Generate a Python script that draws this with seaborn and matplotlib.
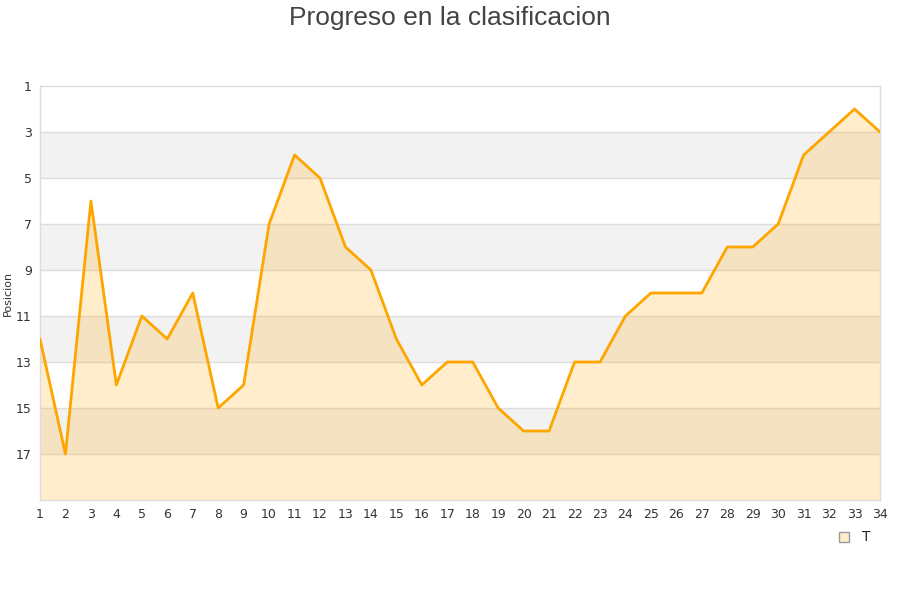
import matplotlib
matplotlib.use("Agg")
import matplotlib.pyplot as plt
import seaborn as sns
import pandas as pd
from matplotlib.lines import Line2D

# jornadas y posiciones
jornadas = list(range(1, 35))
posiciones = [12, 17, 6, 14, 11, 12, 10, 15, 14, 7, 4, 5, 8, 9, 12, 14, 13, 13,
              15, 16, 16, 13, 13, 11, 10, 10, 10, 8, 8, 7, 4, 3, 2, 3]
y_ticks = [1, 3, 5, 7, 9, 11, 13, 15, 17]

df = pd.DataFrame({"Jornada": jornadas, "Posicion": posiciones})

sns.set_style("white")
plt.rcParams['font.family'] = ['DejaVu Sans']

fig = plt.figure(figsize=(9, 6), dpi=100)
ax = fig.add_axes([40/900, 100/600, 840/900, 414/600])

# bandas grises alternas
for lo in [3, 7, 11, 15]:
    ax.axhspan(lo, lo + 2, color="#f2f2f2", zorder=0, lw=0)
for t in y_ticks[1:]:
    ax.axhline(t, color="#dddddd", lw=1, zorder=1)

ax.fill_between(df["Jornada"], df["Posicion"], 19, color="#ffa500", alpha=0.2,
                lw=0, zorder=2)
sns.lineplot(data=df, x="Jornada", y="Posicion", color="#ffa500", lw=2,
             ax=ax, zorder=3)

ax.set_xlim(1, 34)
ax.set_ylim(19, 1)
ax.set_xticks(jornadas)
ax.set_yticks(y_ticks)
ax.tick_params(axis="both", labelsize=9, colors="#333333", length=0, pad=6)
ax.set_xlabel("")
ax.set_ylabel("Posicion", fontsize=8, color="#333333", labelpad=2)
for s in ax.spines.values():
    s.set_color("#dddddd")
    s.set_linewidth(1)

fig.suptitle("Progreso en la clasificacion", fontsize=19, color="#444444",
             family=["Liberation Sans", "DejaVu Sans"], y=0.99)

handle = Line2D([], [], marker="s", linestyle="none", markersize=7,
                markerfacecolor="#ffedcc", markeredgecolor="#999999")
ax.legend([handle], ["T"], loc="upper right", bbox_to_anchor=(0.995, -0.06),
          frameon=False, fontsize=10, handletextpad=0.3, borderaxespad=0)

fig.savefig("out.png", dpi=100)
